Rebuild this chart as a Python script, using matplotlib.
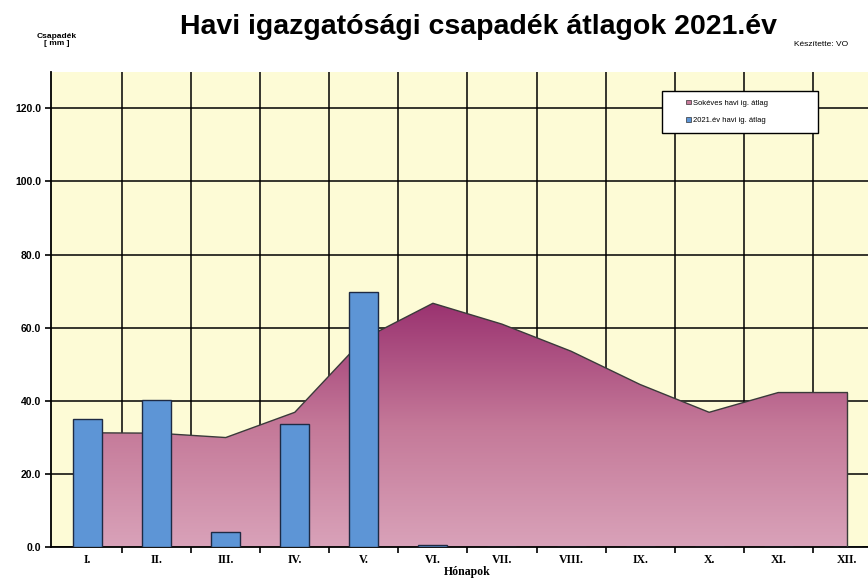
import numpy as np
import matplotlib
matplotlib.use("Agg")
import matplotlib.pyplot as plt
from matplotlib.patches import Patch, Rectangle
from matplotlib.colors import LinearSegmentedColormap

months = ["I.", "II.", "III.", "IV.", "V.", "VI.", "VII.", "VIII.", "IX.", "X.", "XI.", "XII."]
longterm_avg = [31.3, 31.2, 30.0, 36.9, 57.0, 66.7, 61.0, 53.6, 44.5, 36.9, 42.3, 42.3]
avg_2021 = [35.0, 40.2, 4.1, 33.6, 69.8, 0.7, 0, 0, 0, 0, 0, 0]
yticks = [0, 20, 40, 60, 80, 100, 120]

fig = plt.figure(figsize=(8.68, 5.80), dpi=100)
ax = fig.add_axes([51/868, 32.7/580, 1 - 51/868, 475.6/580])
ax.set_facecolor("#fdfbd6")

x = np.arange(len(months))
ymax = 130

# gradient area (long-term average)
poly = ax.fill_between(x, longterm_avg, 0, facecolor="none", edgecolor="none", zorder=2)
cmap = LinearSegmentedColormap.from_list("g", ["#d9a2b9", "#c47898", "#9a3270"])
top = max(longterm_avg)
grad = np.linspace(0, 1, 256).reshape(-1, 1)
im = ax.imshow(grad, extent=[x[0], x[-1], 0, top], origin="lower", aspect="auto",
               cmap=cmap, zorder=2)
im.set_clip_path(poly.get_paths()[0], ax.transData)
ax.plot(x, longterm_avg, color="#3a3a3a", lw=1.0, zorder=3)
ax.plot([x[-1], x[-1]], [0, longterm_avg[-1]], color="#3a3a3a", lw=1.0, zorder=3)
ax.set_xlim(-0.53, 11.3)
ax.set_ylim(0, ymax)

# bars (2021)
ax.bar(x, avg_2021, width=0.42, color="#5d95d6", edgecolor="#1e2a44", lw=1.0, zorder=4)

# grid
ax.set_yticks(yticks)
ax.set_yticklabels([f"{v:.1f}" for v in yticks])
ax.set_xticks(x)
ax.set_xticklabels(months)
ax.set_xticks(np.arange(0.5, 11, 1), minor=True)
ax.grid(True, which="major", axis="y", color="black", lw=1.1, zorder=1)
ax.grid(True, which="minor", axis="x", color="black", lw=1.1, zorder=1)
ax.set_axisbelow(True)
ax.tick_params(axis="x", which="major", length=0, pad=5)
ax.tick_params(axis="x", which="minor", length=4, width=1.2, direction="out")
ax.tick_params(axis="y", length=4, width=1.2, direction="out", pad=3)
for lab in ax.get_xticklabels():
    lab.set_fontfamily("Liberation Serif")
    lab.set_fontweight("bold")
    lab.set_fontsize(8.5)
for lab in ax.get_yticklabels():
    lab.set_fontfamily("Liberation Sans")
    lab.set_fontweight("bold")
    lab.set_fontsize(7.5)

for s in ["top", "right"]:
    ax.spines[s].set_visible(False)
ax.spines["left"].set_linewidth(1.3)
ax.spines["bottom"].set_linewidth(1.3)

fig.text(467/868, 1 - 572/580, "Hónapok", ha="center", va="center",
         fontfamily="Liberation Serif", fontweight="bold", fontsize=8.5)

# texts
fig.text(478/868, 1 - 27/580, "Havi igazgatósági csapadék átlagok 2021.év",
         ha="center", va="center", fontfamily="Liberation Sans", fontweight="bold", fontsize=20.5)
fig.text(57/868, 1 - 40/580, "Csapadék\n[ mm ]", ha="center", va="center",
         fontfamily="Liberation Sans", fontweight="bold", fontsize=6, linespacing=1.0)
fig.text(848/868, 1 - 44/580, "Készítette: VO", ha="right", va="center",
         fontfamily="Liberation Sans", fontsize=6)

# legend box
box = Rectangle((662/868, 1 - 133/580), 156/868, 42/580, transform=fig.transFigure,
                facecolor="white", edgecolor="black", lw=1.0, zorder=9)
fig.add_artist(box)
handles = [Patch(facecolor="#c77a9a", edgecolor="#333333", lw=0.5),
           Patch(facecolor="#5d95d6", edgecolor="#333333", lw=0.5)]
leg = fig.legend(handles, ["Sokéves havi ig. átlag", "2021.év havi ig. átlag"],
                 loc="center", bbox_to_anchor=(727/868, 1 - 112/580),
                 prop={"family": "Liberation Sans", "size": 5.5},
                 frameon=False,
                 handlelength=0.6, handleheight=0.6, handletextpad=0.3,
                 labelspacing=1.4, borderaxespad=0)
leg.set_zorder(10)

fig.savefig("out.png", dpi=100, facecolor="white")
